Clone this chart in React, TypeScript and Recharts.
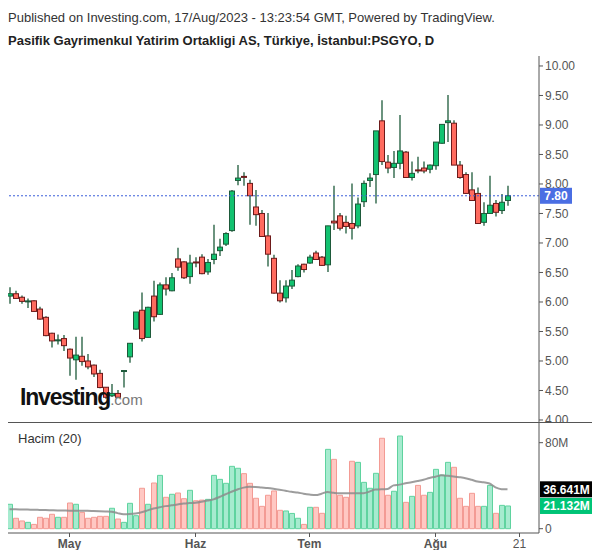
import React from 'react';
import {
  ComposedChart, Bar, Line, XAxis, YAxis, Cell, ReferenceLine
} from 'recharts';

// daily candles, 17 Apr - 17 Aug 2023
const opens = [
  6.10, 6.14, 6.08, 6.01, 6.02, 5.88, 5.74, 5.47, 5.33, 5.38,
  5.20, 5.02, 5.08, 5.00, 4.93, 4.79, 4.555, 4.41, 4.45, 4.83,
  5.07, 5.54, 5.86, 5.40, 6.10, 5.79, 6.29, 6.19, 6.73, 6.68,
  6.43, 6.67, 6.76, 6.51, 6.72, 6.87, 6.98, 7.21, 8.06, 8.12,
  8.01, 7.61, 7.50, 7.12, 6.74, 6.15, 6.07, 6.27, 6.43, 6.64,
  6.66, 6.83, 6.76, 6.63, 7.37, 7.46, 7.35, 7.33, 7.29, 7.70,
  8.06, 8.16, 9.07, 8.37, 8.28, 8.35, 8.54, 8.11, 8.23, 8.27,
  8.25, 8.31, 8.69, 9.04, 9.03, 8.32, 8.16, 7.90, 7.84, 7.35,
  7.50, 7.67, 7.55, 7.72
];
const highs = [
  6.25, 6.19, 6.11, 6.06, 6.03, 5.92, 5.76, 5.48, 5.45, 5.44,
  5.21, 5.41, 5.41, 5.12, 4.94, 4.85, 4.56, 4.61, 4.51, 4.83,
  5.30, 5.83, 6.16, 5.92, 6.36, 6.33, 6.42, 6.49, 6.92, 6.69,
  6.80, 6.76, 6.81, 6.73, 7.31, 7.07, 7.18, 7.90, 8.32, 8.20,
  8.07, 7.90, 7.56, 7.51, 6.80, 6.37, 6.37, 6.54, 6.64, 6.65,
  6.80, 6.87, 6.78, 7.29, 7.97, 7.51, 7.46, 8.01, 7.77, 8.06,
  8.18, 8.90, 9.42, 8.49, 8.56, 9.17, 8.56, 8.38, 8.46, 8.38,
  8.33, 8.71, 9.01, 9.51, 9.08, 8.39, 8.20, 8.20, 7.94, 7.69,
  8.14, 7.73, 7.83, 7.97
];
const lows = [
  5.97, 6.05, 5.97, 5.90, 5.83, 5.70, 5.42, 5.23, 5.28, 5.17,
  4.75, 4.68, 4.92, 4.86, 4.73, 4.54, 4.36, 4.39, 4.37, 4.55,
  4.97, 5.53, 5.33, 5.40, 5.67, 5.78, 6.11, 6.18, 6.53, 6.39,
  6.31, 6.59, 6.47, 6.46, 6.64, 6.78, 6.95, 7.19, 7.98, 7.97,
  7.31, 7.29, 7.10, 6.60, 6.14, 5.99, 5.99, 6.22, 6.42, 6.50,
  6.65, 6.71, 6.61, 6.51, 7.22, 7.21, 7.16, 7.06, 7.25, 7.61,
  7.95, 7.67, 8.32, 8.18, 8.10, 8.25, 8.10, 8.06, 8.18, 8.18,
  8.18, 8.24, 8.68, 8.71, 8.32, 8.09, 7.83, 7.72, 7.32, 7.29,
  7.49, 7.45, 7.49, 7.63
];
const closes = [
  6.14, 6.06, 6.01, 6.01, 5.84, 5.71, 5.43, 5.34, 5.35, 5.26,
  5.05, 5.10, 4.99, 4.90, 4.78, 4.55, 4.385, 4.45, 4.385, 4.83,
  5.30, 5.83, 5.38, 5.91, 5.75, 6.29, 6.22, 6.41, 6.59, 6.41,
  6.66, 6.66, 6.48, 6.67, 6.81, 6.93, 7.16, 7.88, 8.10, 8.10,
  7.80, 7.48, 7.11, 6.81, 6.15, 6.02, 6.27, 6.37, 6.61, 6.55,
  6.76, 6.72, 6.62, 7.29, 7.34, 7.25, 7.28, 7.25, 7.66, 8.01,
  8.10, 8.90, 8.38, 8.27, 8.35, 8.56, 8.11, 8.18, 8.21, 8.22,
  8.32, 8.71, 9.01, 9.07, 8.32, 8.11, 7.84, 7.72, 7.33, 7.50,
  7.64, 7.52, 7.69, 7.80
];
// volume in millions
const volumes = [
  22.7, 9.7, 7.2, 5.9, 4.0, 10.6, 9.7, 13.4, 10.6, 10.6,
  23.9, 22.7, 15.2, 9.7, 10.6, 11.5, 11.5, 19.0, 9.0, 5.9,
  23.6, 12.1, 37.6, 22.7, 42.5, 49.6, 29.2, 32.0, 33.2, 27.9,
  35.7, 26.0, 26.6, 27.3, 49.6, 45.9, 42.2, 58.0, 56.2, 51.2,
  42.2, 28.3, 20.8, 31.1, 35.1, 17.1, 16.5, 14.2, 9.7, 4.0,
  19.9, 19.9, 14.3, 73.8, 64.5, 31.1, 29.2, 62.7, 61.7, 43.1,
  37.6, 51.5, 84.1, 31.1, 34.8, 86.2, 24.5, 30.1, 40.3, 31.1,
  33.8, 55.2, 49.9, 61.7, 57.1, 28.3, 20.8, 32.9, 20.8, 20.8,
  40.3, 14.3, 21.7, 21.132
];
// Hacim (20) average line
const volumeMA = [
  18.0, 18.0, 17.9, 17.8, 17.6, 17.5, 17.4, 17.2, 17.0, 16.9,
  16.8, 16.8, 16.7, 16.6, 16.4, 16.2, 16.0, 15.8, 14.5, 13.4,
  13.6, 14.2, 15.3, 17.0, 18.8, 19.9, 21.0, 21.8, 22.5, 23.4,
  23.8, 24.1, 25.0, 26.2, 27.3, 29.5, 32.0, 34.4, 36.5, 38.2,
  39.0, 38.8, 38.3, 37.9, 37.2, 36.3, 35.3, 34.3, 33.6, 32.6,
  31.8, 31.3, 32.5, 34.2, 33.4, 32.9, 32.9, 32.9, 32.9, 33.0,
  34.5, 36.5, 36.6, 37.0, 40.3, 41.0, 42.2, 43.2, 44.3, 45.5,
  47.2, 48.4, 49.6, 49.2, 48.6, 47.9, 47.0, 45.5, 43.8, 43.1,
  42.0, 38.5, 36.8, 36.641
];

const tickIdx = [10, 31, 50, 71, 85];
const tickLabels = ['May', 'Haz', 'Tem', 'Ağu', '21'];
const priceTicks = [4, 4.5, 5, 5.5, 6, 6.5, 7, 7.5, 8, 8.5, 9, 9.5, 10];
const volTicks = [0, 80];

const SLOTS = 88;
const WICK = '#1d5a3a';
const UP_FILL = '#12c270';
const UP_LINE = '#1d5a3a';
const DOWN_FILL = '#ff6b5f';
const DOWN_LINE = '#6e1a1a';
const AXIS = '#555';

const rows = Array.from({ length: SLOTS }, (_, i) => {
  if (i >= closes.length) return { i };
  return {
    i,
    open: opens[i],
    high: highs[i],
    low: lows[i],
    close: closes[i],
    vol: volumes[i],
    ma: volumeMA[i],
  };
});

const Candle = (props: any) => {
  const { x, width, payload } = props;
  let { y, height } = props;
  if (!payload || payload.open === undefined) return null;
  if (height < 0) { y += height; height = -height; }
  const { open, close, high, low } = payload;
  const up = close >= open;
  const ratio = high === low ? 0 : height / (high - low);
  const yOf = (v: number) => y + (high - v) * ratio;
  const top = yOf(Math.max(open, close));
  const bot = yOf(Math.min(open, close));
  const cx = x + width / 2;
  const bodyH = bot - top;
  return (
    <g>
      <line x1={cx} x2={cx} y1={y} y2={y + height} stroke={WICK} strokeWidth={1.3} />
      {bodyH < 1.5 ? (
        <rect x={x - 0.5} y={top - 1} width={width + 1} height={2} fill={up ? UP_LINE : DOWN_LINE} />
      ) : (
        <rect x={x} y={top} width={width} height={bodyH}
          fill={up ? UP_FILL : DOWN_FILL} stroke={up ? UP_LINE : DOWN_LINE} strokeWidth={1} />
      )}
    </g>
  );
};

const MonthTick = (props: any) => {
  const { x, y, payload } = props;
  const k = tickIdx.indexOf(payload.value);
  if (k < 0) return null;
  const isMonth = tickLabels[k].length > 2;
  return (
    <g>
      <line x1={x} x2={x} y1={y - 6} y2={y - 2} stroke={AXIS} />
      <text x={x} y={y} dy="0.71em" textAnchor="middle" fontSize={12}
        fontWeight={isMonth ? 'bold' : 'normal'} fill={AXIS}>{tickLabels[k]}</text>
    </g>
  );
};

const axisBox = (text: string, bg: string, w: number) => (props: any) => {
  const { viewBox } = props;
  const bx = viewBox.x + viewBox.width + 1;
  const by = viewBox.y;
  return (
    <g>
      <rect x={bx} y={by - 8} width={w} height={16} fill={bg} />
      <text x={bx + w / 2} y={by + 4.5} textAnchor="middle" fontSize={12}
        fontWeight="bold" fill="#fff">{text}</text>
    </g>
  );
};

const App = () => {
  const last = closes.length - 1;
  return (
    <div style={{
      position: 'relative', width: 600, height: 558, margin: -8, background: '#fff',
      fontFamily: '"Liberation Sans", Arial, sans-serif', overflow: 'hidden'
    }}>
      <div style={{ position: 'absolute', left: 8, top: 10, fontSize: 13, color: '#333' }}>
        Published on Investing.com, 17/Aug/2023 - 13:23:54 GMT, Powered by TradingView.
      </div>
      <div style={{ position: 'absolute', left: 8, top: 33, fontSize: 13, fontWeight: 'bold', color: '#222' }}>
        Pasifik Gayrimenkul Yatirim Ortakligi AS, Türkiye, İstanbul:PSGYO, D
      </div>

      <div style={{ position: 'absolute', left: 0, top: 56 }}>
        <ComposedChart width={600} height={367} data={rows}
          margin={{ top: 0, right: 0, bottom: 0, left: 6.5 }}>
          <XAxis dataKey="i" type="category" hide padding={{ left: 0, right: 4.5 }} />
          <YAxis orientation="right" width={61} domain={[3.949, 10.169]} allowDataOverflow
            ticks={priceTicks} interval={0} tickFormatter={(v: number) => v.toFixed(2)}
            tick={{ fontSize: 12, fill: AXIS }} tickSize={4} tickMargin={2}
            axisLine={{ stroke: AXIS }} tickLine={{ stroke: AXIS }} />
          <ReferenceLine y={closes[last]} stroke="#3b5fd9" strokeDasharray="2 2"
            label={{ content: axisBox(closes[last].toFixed(2), '#4a6ee3', 32) } as any} />
          <Bar dataKey={(d: any) => (d.open === undefined ? null : [d.low, d.high])}
            barSize={5} shape={<Candle />} isAnimationActive={false} />
        </ComposedChart>
      </div>

      <div style={{
        position: 'absolute', left: 20, top: 384, fontSize: 23, fontWeight: 'bold',
        color: '#111', letterSpacing: -1.2, lineHeight: '26px'
      }}>
        Investing<span style={{ fontSize: 15, fontWeight: 'normal', color: '#777', letterSpacing: 0 }}>.com</span>
      </div>

      <div style={{ position: 'absolute', left: 0, top: 423 }}>
        <ComposedChart width={600} height={135} data={rows}
          margin={{ top: 0, right: 0, bottom: 0, left: 6.5 }}>
          <XAxis dataKey="i" type="category" interval={0} height={25}
            padding={{ left: 0, right: 4.5 }} tick={<MonthTick />}
            tickSize={4} tickMargin={2} tickLine={false} axisLine={{ stroke: AXIS }} />
          <YAxis orientation="right" width={61} domain={[-4, 98.3]} allowDataOverflow
            ticks={volTicks} interval={0} tickFormatter={(v: number) => (v === 0 ? '0' : `${v}M`)}
            tick={{ fontSize: 12, fill: AXIS }} tickSize={4} tickMargin={2}
            axisLine={{ stroke: AXIS }} tickLine={{ stroke: AXIS }} />
          <Bar dataKey="vol" barSize={5} isAnimationActive={false}>
            {rows.map((r: any) => {
              const up = r.close >= r.open;
              return (
                <Cell key={r.i} fill={up ? '#a6ebcf' : '#ffc8c3'}
                  stroke={up ? '#5fd39f' : '#f39b94'} strokeWidth={1} />
              );
            })}
          </Bar>
          <Line dataKey="ma" type="monotone" stroke="#8c8c8c" strokeOpacity={0.85}
            strokeWidth={2} dot={false} isAnimationActive={false} />
          <ReferenceLine y={volumeMA[last]} stroke="none"
            label={{ content: axisBox(`${volumeMA[last].toFixed(3)}M`, '#000', 53) } as any} />
          <ReferenceLine y={volumes[last]} stroke="none"
            label={{ content: axisBox(`${volumes[last].toFixed(3)}M`, '#00c477', 53) } as any} />
        </ComposedChart>
      </div>

      <div style={{ position: 'absolute', left: 7, top: 422, width: 586, height: 1, background: AXIS }} />
      <div style={{ position: 'absolute', left: 18, top: 431, fontSize: 13, color: '#333' }}>Hacim (20)</div>
    </div>
  );
};

export default App;
